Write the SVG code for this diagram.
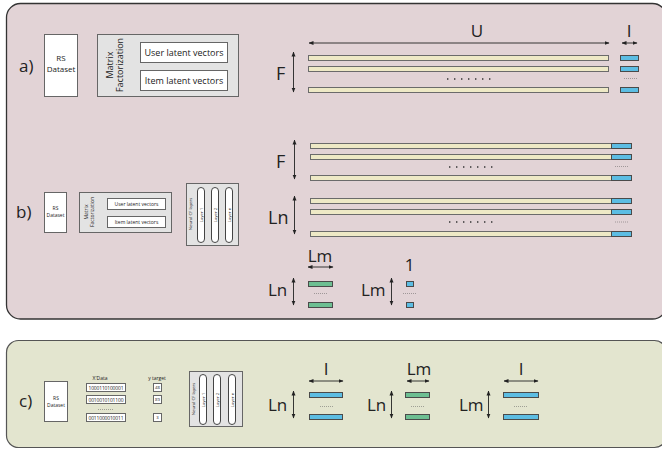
<svg xmlns="http://www.w3.org/2000/svg" width="662" height="450" viewBox="0 0 662 450">
<defs>
<marker id="ah" viewBox="0 0 10 10" refX="9" refY="5" markerWidth="5" markerHeight="5" markerUnits="userSpaceOnUse" orient="auto-start-reverse">
<path d="M0,1 L10,5 L0,9 z" fill="#222"/>
</marker>
<style>
text{font-family:"Open Sans","Liberation Sans",sans-serif;fill:#222}
.lbl{font-size:17px}
.big{font-size:18px}
.box{fill:#fff;stroke:#666;stroke-width:1}
.gbox{fill:#e3e3e3;stroke:#666;stroke-width:1}
.arr{stroke:#222;stroke-width:0.9;fill:none;marker-start:url(#ah);marker-end:url(#ah)}
.bg{fill:#eee9c6;stroke:#6b6b6b;stroke-width:1}
.bl{fill:#5cbde3;stroke:#4a4a4a;stroke-width:1}
.gr{fill:#6dbf92;stroke:#4a4a4a;stroke-width:1}
.dots{stroke:#333;stroke-width:1.4;stroke-dasharray:1.4 5.6;fill:none}
.sdots{stroke:#555;stroke-width:0.6;stroke-dasharray:0.8 1.2;fill:none}
.pill{fill:#fff;stroke:#444;stroke-width:1}
.t9{font-size:9px}
.t8{font-size:8px}
.t5{font-size:5px}
.t4{font-size:4.3px}
</style>
</defs>
<!-- panels -->
<rect x="6.5" y="3.5" width="660" height="315.5" rx="14" fill="#e2d3d6" stroke="#333" stroke-width="1.3"/>
<rect x="6.5" y="340.5" width="660" height="107" rx="12" fill="#e3e5cf" stroke="#555" stroke-width="1.2"/>

<!-- panel a -->
<text class="lbl" x="19" y="72">a)</text>
<g id="a-rs">
<rect class="box" x="44.5" y="34.5" width="33" height="62"/>
<text class="t8" text-anchor="middle" x="61" y="61">RS</text>
<text class="t8" text-anchor="middle" x="61" y="72">Dataset</text>
</g>
<g id="a-mf">
<rect class="gbox" x="97.5" y="34.5" width="141" height="62"/>
<text class="t9" text-anchor="middle" transform="translate(113,65) rotate(-90)">Matrix<tspan x="0" dy="10">Factorization</tspan></text>
<rect class="box" x="140.5" y="42.5" width="87" height="20"/>
<text class="t9" text-anchor="middle" x="184" y="55.5">User latent vectors</text>
<rect class="box" x="140.5" y="70.5" width="87" height="20"/>
<text class="t9" text-anchor="middle" x="184" y="83.5">Item latent vectors</text>
</g>
<g id="a-mat">
<text class="lbl" text-anchor="middle" x="477" y="37">U</text>
<text class="lbl" text-anchor="middle" x="629" y="37">I</text>
<text class="big" x="276" y="80">F</text>
<rect class="bg" x="308.5" y="55.5" width="300" height="5"/>
<rect class="bg" x="308.5" y="66.5" width="300" height="5"/>
<rect class="bg" x="308.5" y="87.5" width="300" height="5"/>
<rect class="bl" x="620.5" y="55.5" width="18" height="5"/>
<rect class="bl" x="620.5" y="66.5" width="18" height="5"/>
<rect class="bl" x="620.5" y="87.5" width="18" height="5"/>
<line class="dots" x1="447" y1="79" x2="492" y2="79"/>
<line class="sdots" x1="624" y1="78.5" x2="637" y2="78.5"/>
</g>

<!-- panel b -->
<text class="lbl" x="16" y="218">b)</text>
<g id="b-rs">
<rect class="box" x="44.5" y="192.5" width="22" height="40"/>
<text class="t5" text-anchor="middle" x="55.5" y="210">RS</text>
<text class="t5" text-anchor="middle" x="55.5" y="217">Dataset</text>
</g>
<g id="b-mf">
<rect class="gbox" x="79.5" y="192.5" width="92" height="40"/>
<text class="t5" text-anchor="middle" transform="translate(88,212) rotate(-90)">Matrix<tspan x="0" dy="6">Factorization</tspan></text>
<rect class="box" x="107.5" y="198.5" width="58" height="11"/>
<text class="t5" text-anchor="middle" x="136.5" y="205.8">User latent vectors</text>
<rect class="box" x="107.5" y="216.5" width="58" height="11"/>
<text class="t5" text-anchor="middle" x="136.5" y="223.8">Item latent vectors</text>
</g>
<g id="b-ncf">
<rect class="gbox" x="186.5" y="183.5" width="52" height="62"/>
<text class="t4" text-anchor="middle" transform="translate(192,214) rotate(-90)">Neural CF layers</text>
<rect class="pill" x="197.5" y="187.5" width="7" height="55" rx="3.5"/>
<rect class="pill" x="211.5" y="187.5" width="7" height="55" rx="3.5"/>
<rect class="pill" x="225.5" y="187.5" width="7" height="55" rx="3.5"/>
<text class="t4" text-anchor="middle" transform="translate(202.5,215) rotate(-90)">Layer 1</text>
<text class="t4" text-anchor="middle" transform="translate(216.5,215) rotate(-90)">Layer 2</text>
<text class="t4" text-anchor="middle" transform="translate(230.5,215) rotate(-90)">Layer n</text>
</g>
<g id="b-mat">
<text class="big" x="276" y="168">F</text>
<text class="big" x="268" y="224">Ln</text>
<rect class="bg" x="310.5" y="143.5" width="301" height="5"/>
<rect class="bg" x="310.5" y="154.5" width="301" height="5"/>
<rect class="bg" x="310.5" y="175.5" width="301" height="5"/>
<rect class="bl" x="611.5" y="143.5" width="20" height="5"/>
<rect class="bl" x="611.5" y="154.5" width="20" height="5"/>
<rect class="bl" x="611.5" y="175.5" width="20" height="5"/>
<line class="dots" x1="449" y1="167" x2="494" y2="167"/>
<line class="sdots" x1="615" y1="166.5" x2="628" y2="166.5"/>
<rect class="bg" x="310.5" y="198.5" width="301" height="5"/>
<rect class="bg" x="310.5" y="209.5" width="301" height="5"/>
<rect class="bg" x="310.5" y="231.5" width="301" height="5"/>
<rect class="bl" x="611.5" y="198.5" width="20" height="5"/>
<rect class="bl" x="611.5" y="209.5" width="20" height="5"/>
<rect class="bl" x="611.5" y="231.5" width="20" height="5"/>
<line class="dots" x1="449" y1="222" x2="494" y2="222"/>
<line class="sdots" x1="615" y1="222" x2="628" y2="222"/>
</g>
<g id="b-lnlm">
<text class="lbl" text-anchor="middle" x="320" y="262">Lm</text>
<text class="lbl" x="268" y="296">Ln</text>
<rect class="gr" x="308.5" y="281.5" width="24" height="5"/>
<rect class="gr" x="308.5" y="302.5" width="24" height="5"/>
<line class="sdots" x1="314" y1="293.5" x2="327" y2="293.5"/>
</g>
<g id="b-lm1">
<text class="lbl" text-anchor="middle" x="409.5" y="271">1</text>
<text class="lbl" x="361" y="296">Lm</text>
<rect class="bl" x="406.5" y="281.5" width="7" height="5"/>
<rect class="bl" x="406.5" y="302.5" width="7" height="5"/>
<line class="sdots" x1="403" y1="293.5" x2="416" y2="293.5"/>
</g>

<!-- panel c -->
<text class="lbl" x="19" y="407">c)</text>
<g id="c-rs">
<rect class="box" x="44.5" y="381.5" width="23" height="40"/>
<text class="t5" text-anchor="middle" x="56" y="400">RS</text>
<text class="t5" text-anchor="middle" x="56" y="407">Dataset</text>
</g>
<g id="c-data">
<text class="t5" text-anchor="middle" x="100" y="380">X'Data</text>
<text class="t5" text-anchor="middle" x="157" y="380">y target</text>
<rect class="box" x="86.5" y="383.5" width="39" height="8"/>
<text class="t5" x="88.5" y="389.5" textLength="35">1000110100001</text>
<rect class="box" x="86.5" y="395.5" width="39" height="8"/>
<text class="t5" x="88.5" y="401.5" textLength="35">0010010101100</text>
<line class="sdots" x1="98" y1="409.5" x2="113" y2="409.5"/>
<rect class="box" x="86.5" y="413.5" width="39" height="8"/>
<text class="t5" x="88.5" y="419.5" textLength="35">0011000010011</text>
<rect class="box" x="153.5" y="383.5" width="8" height="8"/>
<text class="t4" text-anchor="middle" x="157.5" y="389.3">48</text>
<rect class="box" x="153.5" y="395.5" width="8" height="8"/>
<text class="t4" text-anchor="middle" x="157.5" y="401.3">89</text>
<rect class="box" x="153.5" y="413.5" width="8" height="8"/>
<text class="t4" text-anchor="middle" x="157.5" y="419.3">3</text>
</g>
<g id="c-ncf">
<rect class="gbox" x="189.5" y="371.5" width="53" height="55"/>
<text class="t4" text-anchor="middle" transform="translate(194.5,399) rotate(-90)">Neural CF layers</text>
<rect class="pill" x="199.5" y="374.5" width="7" height="50" rx="3.5"/>
<rect class="pill" x="213.5" y="374.5" width="7" height="50" rx="3.5"/>
<rect class="pill" x="228.5" y="374.5" width="7" height="50" rx="3.5"/>
<text class="t4" text-anchor="middle" transform="translate(204.5,400) rotate(-90)">Layer 1</text>
<text class="t4" text-anchor="middle" transform="translate(218.5,400) rotate(-90)">Layer 2</text>
<text class="t4" text-anchor="middle" transform="translate(233.5,400) rotate(-90)">Layer n</text>
</g>
<g id="c-g1">
<text class="lbl" text-anchor="middle" x="326" y="375">I</text>
<text class="lbl" x="268" y="411">Ln</text>
<rect class="bl" x="309.5" y="392.5" width="33" height="5"/>
<rect class="bl" x="309.5" y="414.5" width="33" height="5"/>
<line class="sdots" x1="320" y1="406.5" x2="333" y2="406.5"/>
</g>
<g id="c-g2">
<text class="lbl" text-anchor="middle" x="419" y="375">Lm</text>
<text class="lbl" x="367" y="411">Ln</text>
<rect class="gr" x="405.5" y="392.5" width="24" height="5"/>
<rect class="gr" x="405.5" y="414.5" width="24" height="5"/>
<line class="sdots" x1="411" y1="406.5" x2="424" y2="406.5"/>
</g>
<g id="c-g3">
<text class="lbl" text-anchor="middle" x="521" y="375">I</text>
<text class="lbl" x="459" y="411">Lm</text>
<rect class="bl" x="503.5" y="392.5" width="35" height="5"/>
<rect class="bl" x="503.5" y="414.5" width="35" height="5"/>
<line class="sdots" x1="514" y1="406.5" x2="527" y2="406.5"/>
</g>

<!-- connectors (dimension arrows) -->
<g id="connectors">
<line class="arr" x1="309" y1="43" x2="609" y2="43"/>
<line class="arr" x1="622" y1="43" x2="637" y2="43"/>
<line class="arr" x1="293.5" y1="52" x2="293.5" y2="92"/>
<line class="arr" x1="294.5" y1="140" x2="294.5" y2="179"/>
<line class="arr" x1="294.5" y1="196" x2="294.5" y2="234"/>
<line class="arr" x1="308" y1="267" x2="333" y2="267"/>
<line class="arr" x1="293.5" y1="278" x2="293.5" y2="305"/>
<line class="arr" x1="391.5" y1="278" x2="391.5" y2="305"/>
<line class="arr" x1="309" y1="381" x2="343" y2="381"/>
<line class="arr" x1="293.5" y1="391" x2="293.5" y2="418"/>
<line class="arr" x1="407" y1="381" x2="429" y2="381"/>
<line class="arr" x1="391.5" y1="391" x2="391.5" y2="418"/>
<line class="arr" x1="504" y1="381" x2="538" y2="381"/>
<line class="arr" x1="488.5" y1="391" x2="488.5" y2="418"/>
</g>
</svg>
